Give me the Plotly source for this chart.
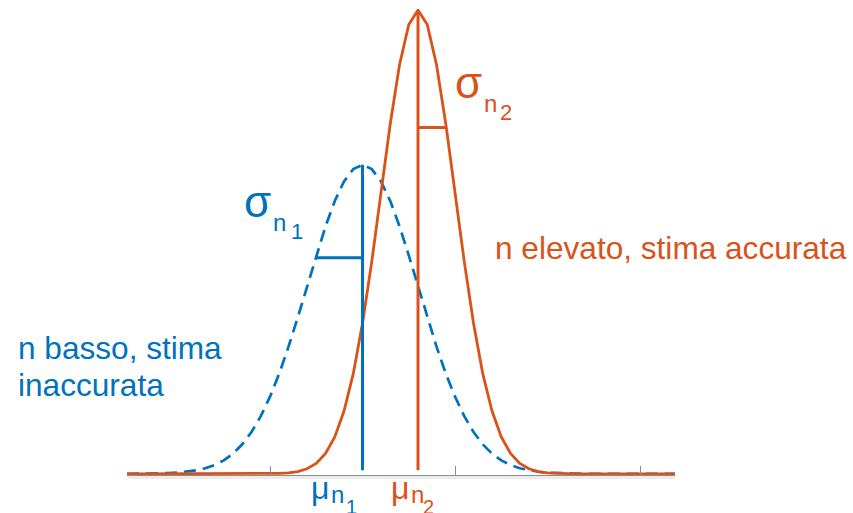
import plotly.graph_objects as go

# ---------------- data ----------------
BLUE_X = [2.27, 3, 3.5, 4, 4.5, 5, 5.5, 6, 6.5, 7, 7.5, 8, 8.5, 9, 9.5, 10, 10.5, 11, 11.5,
          12, 12.5, 13, 13.5, 14, 14.5, 15, 15.5, 16, 16.5, 17, 17.5, 18, 18.5, 19, 19.5,
          20, 20.5, 21, 21.5, 22, 22.5, 23, 23.5, 24, 24.5, 25, 25.5, 26, 26.5, 27, 31.89]
BLUE_Y = [0.0, 0.0, 0.0001, 0.0002, 0.0003, 0.0005, 0.0009, 0.0015, 0.0024, 0.0038, 0.0058,
          0.0087, 0.0127, 0.0180, 0.0248, 0.0332, 0.0432, 0.0547, 0.0673, 0.0807, 0.0940,
          0.1065, 0.1174, 0.1258, 0.1311, 0.1330, 0.1311, 0.1258, 0.1174, 0.1065, 0.0940,
          0.0807, 0.0673, 0.0547, 0.0432, 0.0332, 0.0248, 0.0180, 0.0127, 0.0087, 0.0058,
          0.0038, 0.0024, 0.0015, 0.0009, 0.0005, 0.0003, 0.0002, 0.0001, 0.0, 0.0]

ORANGE_X = [2.27, 9.5, 10, 10.5, 11, 11.5, 12, 12.5, 13, 13.5, 14, 14.5, 15, 15.5, 16, 16.5,
            17, 17.5, 18, 18.5, 19, 19.5, 20, 20.5, 21, 21.5, 22, 22.5, 23, 23.5, 24, 24.5,
            25, 25.5, 26, 26.5, 31.89]
ORANGE_Y = [0.0, 0.0, 0.0001, 0.0002, 0.0004, 0.0010, 0.0022, 0.0045, 0.0088, 0.0159, 0.0270,
            0.0431, 0.0648, 0.0913, 0.1210, 0.1506, 0.1760, 0.1933, 0.1995, 0.1933, 0.1760,
            0.1506, 0.1210, 0.0913, 0.0648, 0.0431, 0.0270, 0.0159, 0.0088, 0.0045, 0.0022,
            0.0010, 0.0004, 0.0002, 0.0001, 0.0, 0.0]

MU = [15, 18]                 # means (blue, orange)
PEAK = [0.1330, 0.1995]       # curve height at the mean
SIGMA_BAR_Y = [0.093, 0.149]  # height of sigma bars
SIGMA_BAR_X = [12.5, 19.5]    # outer end of sigma bars

TICKS = [10, 20, 30]
X_RANGE = [2.27, 31.89]
Y_RANGE = [-0.0005, 0.2]

BLUE = "#0072BD"
ORANGE = "#D95319"
FONT = "Liberation Sans, Arial, sans-serif"

fig = go.Figure()

fig.add_trace(go.Scatter(x=BLUE_X, y=BLUE_Y, mode="lines",
                         line=dict(color=BLUE, width=2.7, dash="12px,7px")))
fig.add_trace(go.Scatter(x=ORANGE_X, y=ORANGE_Y, mode="lines",
                         line=dict(color=ORANGE, width=2.8)))

# mean verticals
for m, p, c in zip(MU, PEAK, [BLUE, ORANGE]):
    fig.add_trace(go.Scatter(x=[m, m], y=[0.0015, p], mode="lines",
                             line=dict(color=c, width=3)))
# sigma bars
for m, sy, sx, c in zip(MU, SIGMA_BAR_Y, SIGMA_BAR_X, [BLUE, ORANGE]):
    fig.add_trace(go.Scatter(x=[sx, m], y=[sy, sy], mode="lines",
                             line=dict(color=c, width=3)))

L, R, T, B = 127, 178, 9, 38
W, H = 853 - L - R, 513 - T - B


def px_ann(text, left, baseline, size, color):
    return dict(text=text, xref="paper", yref="paper",
                x=(left - 1 - L) / W, y=1 - (baseline - 0.3465 * size - T) / H,
                xanchor="left", yanchor="middle", showarrow=False,
                font=dict(family=FONT, size=size, color=color))


def rel_ann(text, xd, yd, dx, dy, size, color):
    return dict(text=text, xref="x", yref="y", x=xd, y=yd,
                xshift=dx - 1, yshift=-(dy - 0.3465 * size),
                xanchor="left", yanchor="middle", showarrow=False,
                font=dict(family=FONT, size=size, color=color))


anns = [
    px_ann("n basso, stima", 17, 359, 31.6, BLUE),
    px_ann("inaccurata", 17, 396, 31.6, BLUE),
    px_ann("n elevato, stima accurata", 494, 259, 31.6, ORANGE),
    # sigma labels
    rel_ann("σ", MU[0], SIGMA_BAR_Y[0], -119.5, -41.2, 44, BLUE),
    rel_ann("n", MU[0], SIGMA_BAR_Y[0], -90.5, -27.2, 24, BLUE),
    rel_ann("1", MU[0], SIGMA_BAR_Y[0], -73, -18.2, 22, BLUE),
    rel_ann("σ", MU[1], SIGMA_BAR_Y[1], 36, -29.5, 44, ORANGE),
    rel_ann("n", MU[1], SIGMA_BAR_Y[1], 65, -16, 24, ORANGE),
    rel_ann("2", MU[1], SIGMA_BAR_Y[1], 81, -7, 22, ORANGE),
    # mu labels
    rel_ann("μ", MU[0], 0, -53, 25.2, 32, BLUE),
    rel_ann("n", MU[0], 0, -33, 29.2, 24, BLUE),
    rel_ann("1", MU[0], 0, -18, 40, 20, BLUE),
    rel_ann("μ", MU[1], 0, -28.5, 25.2, 32, ORANGE),
    rel_ann("n", MU[1], 0, -8, 29.2, 24, ORANGE),
    rel_ann("2", MU[1], 0, 4, 40, 20, ORANGE),
]

fig.update_layout(
    width=853, height=513,
    margin=dict(l=L, r=R, t=T, b=B, pad=0),
    paper_bgcolor="white", plot_bgcolor="white",
    showlegend=False,
    annotations=anns,
    shapes=[dict(type="rect", xref="paper", yref="paper", ysizemode="pixel", yanchor=0,
                 x0=0, x1=1, y0=-1, y1=-4, fillcolor="#ececec", line=dict(width=0),
                 layer="below")],
    xaxis=dict(range=X_RANGE, showgrid=False, zeroline=False, showline=True,
               linecolor="#8c8c8c", linewidth=1, ticks="inside", ticklen=9,
               tickcolor="#8c8c8c", tickwidth=1, tickvals=TICKS, showticklabels=False),
    yaxis=dict(range=Y_RANGE, showgrid=False, zeroline=False, showline=False,
               showticklabels=False, ticks=""),
)

fig.write_html("out.html", config={"displayModeBar": False},
               post_script="document.body.style.margin='0';document.body.style.overflow='hidden';")
